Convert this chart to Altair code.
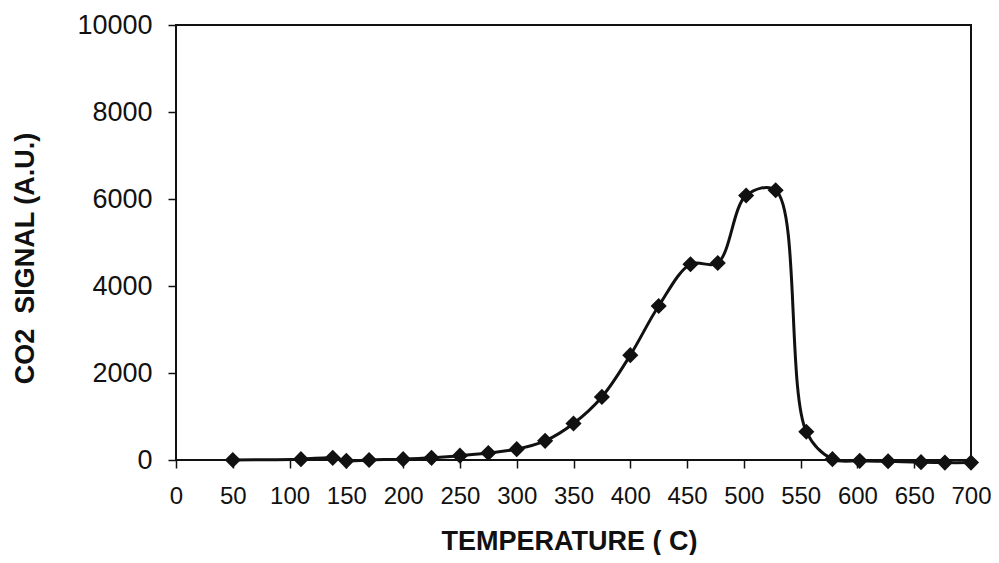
import altair as alt
import pandas as pd

temperature = [50, 110, 138, 150, 170, 200, 225, 250, 275, 300, 325, 350, 375,
               400, 425, 453, 477, 502, 528, 555, 578, 602, 627, 656, 677, 700]
co2_signal = [0, 20, 50, -20, 0, 20, 50, 100, 160, 250, 440, 840, 1450,
              2410, 3540, 4500, 4530, 6080, 6200, 650, 20, -20, -30, -50, -60, -60]
x_ticks = list(range(0, 701, 50))
y_ticks = list(range(0, 10001, 2000))

df = pd.DataFrame({"T": temperature, "S": co2_signal})

FONT = "Liberation Sans"
INK = "#111111"

x_enc = alt.X("T:Q", scale=alt.Scale(domain=[0, 700], nice=False),
              axis=alt.Axis(values=x_ticks, format="d", title="TEMPERATURE ( C)", grid=False,
                            domain=False, tickSize=8, tickWidth=1.5, tickColor=INK,
                            labelFontSize=24, labelColor=INK, labelFont=FONT,
                            labelPadding=16, labelFlush=False, labelOverlap=False,
                            titleFont=FONT, titleFontSize=27, titleFontWeight="bold",
                            titleColor=INK, titleBaseline="alphabetic",
                            titleX=393, titleY=89, titleAlign="center"))
y_enc = alt.Y("S:Q", scale=alt.Scale(domain=[0, 10000], nice=False),
              axis=alt.Axis(values=y_ticks, format="d", title="CO2\u00a0 SIGNAL (A.U.)", grid=False,
                            domain=False, tickSize=8, tickWidth=1.5, tickColor=INK,
                            labelFontSize=27, labelColor=INK, labelFont=FONT,
                            labelPadding=16, labelFlush=False, labelOverlap=False,
                            titleFont=FONT, titleFontSize=27, titleFontWeight="bold",
                            titleColor=INK, titleBaseline="alphabetic",
                            titleX=-143, titleY=233, titleAngle=-90, titleAlign="center"))

line = alt.Chart(df).mark_line(color=INK, strokeWidth=3,
                               interpolate="catmull-rom", clip=False).encode(x=x_enc, y=y_enc)
pts = alt.Chart(df).mark_point(shape="diamond", filled=True, color=INK, size=260,
                               opacity=1, clip=False).encode(x="T:Q", y="S:Q")

chart = (line + pts).properties(
    width=795, height=435,
    autosize=alt.AutoSizeParams(type="none"),
    padding={"left": 168, "top": 17, "right": 20, "bottom": 95},
    background="white",
).configure_view(stroke=INK, strokeWidth=2)

chart.save("out.html", embed_options={"renderer": "svg", "actions": False})
